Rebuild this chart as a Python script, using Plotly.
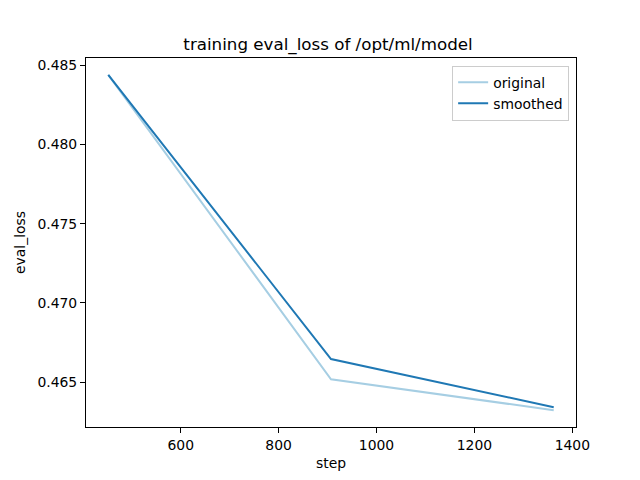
import plotly.graph_objects as go

# eval points
steps = [452, 907, 1362]
original = [0.48439, 0.46518, 0.46323]
smoothed = [0.48439, 0.46646, 0.46342]

LIGHT_BLUE = "#a6cee3"
DARK_BLUE = "#1f78b4"
FONT = "DejaVu Sans"

fig = go.Figure()
fig.add_trace(go.Scatter(x=steps, y=original, mode="lines", name="original",
                         line=dict(color=LIGHT_BLUE, width=2)))
fig.add_trace(go.Scatter(x=steps, y=smoothed, mode="lines", name="smoothed",
                         line=dict(color=DARK_BLUE, width=2)))

axis_style = dict(
    showgrid=False, zeroline=False,
    showline=True, linecolor="black", linewidth=1, mirror=True,
    ticks="outside", ticklen=5, tickcolor="black", tickwidth=1,
    tickfont=dict(family=FONT, size=13.9, color="black"),
)

# the page body adds 8px on the top/left, so margins are shifted to compensate
fig.update_layout(
    width=640, height=480,
    margin=dict(l=72, r=72, t=50, b=61),
    paper_bgcolor="white", plot_bgcolor="white",
    font=dict(family=FONT, color="black"),
    title=dict(text="training eval_loss of /opt/ml/model",
               x=0.5, xanchor="center", y=1 - 36 / 480, yanchor="middle",
               font=dict(family=FONT, size=16.7, color="black")),
    xaxis=dict(range=[406.5, 1407.5], tickvals=[600, 800, 1000, 1200, 1400],
               title=dict(text="step", font=dict(family=FONT, size=13.9), standoff=6),
               **axis_style),
    yaxis=dict(range=[0.46217, 0.48545],
               tickvals=[0.465, 0.470, 0.475, 0.480, 0.485], tickformat=".3f",
               title=dict(text="eval_loss", font=dict(family=FONT, size=13.9), standoff=8),
               **axis_style),
    legend=dict(x=0.986, xanchor="right", y=0.979, yanchor="top",
                bgcolor="white", bordercolor="#cccccc", borderwidth=1,
                font=dict(family=FONT, size=13.9, color="black")),
)

fig.write_html("out.html")
